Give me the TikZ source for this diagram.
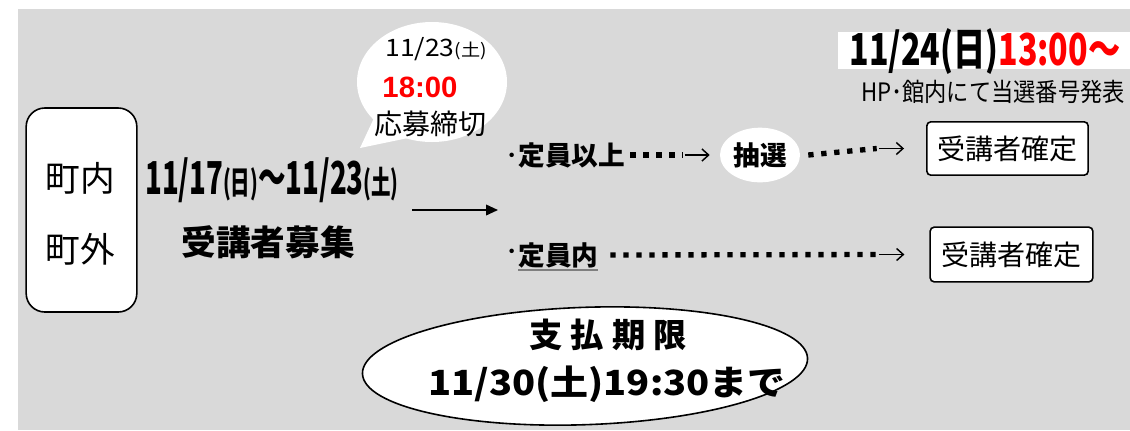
\documentclass[tikz,border=0pt]{standalone}
\usepackage{fontspec}
\setmainfont{Noto Sans CJK JP}
\newfontfamily\arialfont{Liberation Sans}
\usetikzlibrary{shapes.geometric,arrows.meta}
\definecolor{bg}{HTML}{D9D9D9}
\definecolor{redtxt}{HTML}{FF0000}
\definecolor{ulgray}{HTML}{7F7F7F}
\newcommand{\fs}[1]{\fontsize{#1}{#1}\selectfont}
\newcommand{\sqz}[2]{\resizebox{#1}{\height}{#2}}
\begin{document}
\begin{tikzpicture}[x=0.75pt,y=-0.75pt,
  txt/.style={inner sep=0pt, outer sep=0pt, anchor=center},
  whitebox/.style={draw=black, line width=1.2pt, fill=white, rounded corners=3pt, inner sep=0pt},
  dotline/.style={line width=4pt, dash pattern=on 4pt off 5.75pt},
  thinarrow/.style={line width=1.1pt, -{Straight Barb[length=5pt,width=9pt]}},
  solidarrow/.style={line width=1.2pt, -{Triangle[length=9pt,width=8pt]}}
]
\useasboundingbox (0,0) rectangle (1130,430);
\fill[bg] (18,9) rectangle (1130,430);
% top right date banner
\fill[white] (838,32) rectangle (1130,69);
\node[txt] (date) at (985,52) {\sqz{203pt}{\bfseries\fs{33}11/24(日)\textcolor{redtxt}{13:00～}}};
\node[txt] (hp) at (993,92) {\sqz{198pt}{\fs{19}HP･館内にて当選番号発表}};
% speech bubble
\fill[white] (432,82) ellipse [x radius=75, y radius=60];
\fill[white] (374,118) -- (360,148) -- (408,138) -- cycle;
\node[txt] (bd) at (436,49) {\sqz{76pt}{\fs{18}11/23{\fs{13}(土)}}};
\node[txt] (bt) at (420,87) {\arialfont\bfseries\fs{22}\textcolor{redtxt}{18:00}};
\node[txt] (bs) at (430,124) {\fs{21}応募締切};
% town box
\node[draw=black, line width=1.2pt, fill=white, rounded corners=14pt,
      minimum width=83pt, minimum height=153pt] (town) at (81.5,210) {};
\node[txt] (t1) at (80,178) {\fs{26}町内};
\node[txt] (t2) at (80,249) {\fs{26}町外};
% recruitment
\node[txt] (range) at (272,180) {\sqz{190pt}{\bfseries\fs{34}11/17{\fs{24}(日)}～11/23{\fs{24}(土)}}};
\node[txt] (recruit) at (268,242) {\bfseries\fs{26}受講者募集};
\coordinate (as) at (412,210);
\coordinate (ae) at (498,210);
\draw[solidarrow] (as) -- (ae);
% row 1
\node[txt, anchor=west] (over) at (505,155) {\fs{20}･\bfseries 定員以上};
\node[ellipse, fill=white, minimum width=60pt, minimum height=41pt, inner sep=0pt] (lot) at (760,155) {\bfseries\fs{20}抽選};
\node[whitebox, minimum width=121pt, minimum height=40pt] (ok1) at (1007.5,148.5) {\fs{21}受講者確定};
\draw[dotline] ([xshift=4pt]over.east) -- ([xshift=-28pt]lot.west);
\draw[thinarrow] ([xshift=-26.25pt]lot.west) -- ([xshift=-7.5pt]lot.west);
\draw[dotline] ([xshift=6pt]lot.east) -- ([xshift=-37pt]ok1.west);
\draw[thinarrow] ([xshift=-35.25pt]ok1.west) -- ([xshift=-16.5pt]ok1.west);
% row 2
\node[txt, anchor=west] (dot2) at (505,255) {\fs{20}･};
\node[txt, anchor=west] (within) at (dot2.east) {\bfseries\fs{20}定員内};
\draw[ulgray, line width=1.5pt] ([yshift=-2pt]within.south west) -- ([yshift=-2pt]within.south east);
\node[whitebox, minimum width=122pt, minimum height=41pt] (ok2) at (1011.5,254.5) {\fs{21}受講者確定};
\draw[dotline] ([xshift=9pt]within.east) -- ([xshift=-39.5pt]ok2.west);
\draw[thinarrow] ([xshift=-37.5pt]ok2.west) -- ([xshift=-18.75pt]ok2.west);
% payment ellipse
\node[ellipse, draw=black, line width=1.2pt, fill=white, rotate=2,
      minimum width=334pt, minimum height=88pt, inner sep=0pt] (pay) at (585,366) {};
\node[txt] (payt) at (608,335) {\bfseries\fs{25}支\hspace{6pt}払\hspace{6pt}期\hspace{6pt}限};
\node[txt] (payd) at (607,384) {\sqz{268pt}{\bfseries\fs{26}11/30(土)19:30まで}};
\end{tikzpicture}
\end{document}
